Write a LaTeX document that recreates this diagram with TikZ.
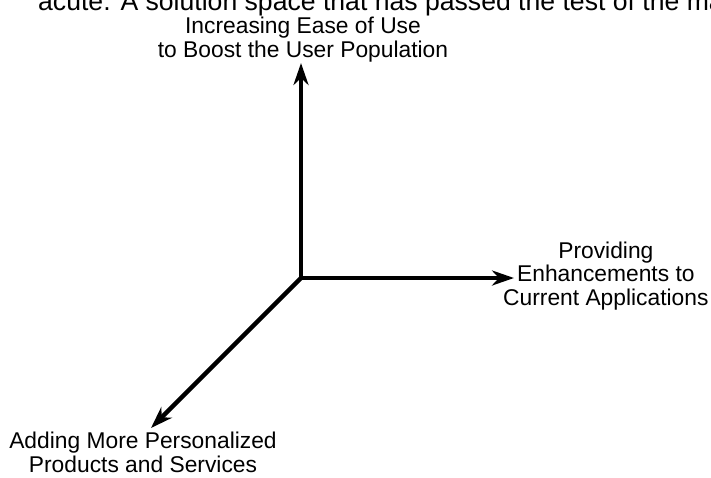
\documentclass[tikz,border=0pt]{standalone}
\usepackage{fontspec}
\setmainfont{Liberation Sans}
\usetikzlibrary{
	arrows.meta,
	positioning
}
\tikzset{
	>={Stealth[length=22pt, width=15pt, inset=7pt]},
	axisline/.style={->, line width=4.5pt},
	axislabel/.style={align=center, inner sep=0pt, font=\fontsize{22.8}{23.5}\selectfont},
	pagetext/.style={anchor=base west, inner sep=0pt, font=\fontsize{26.6}{30}\selectfont}
}

\begin{document}
\begin{tikzpicture}[x=1pt, y=-1pt]
	\useasboundingbox (0,0) rectangle (711,477);
	\clip (0,0) rectangle (711,477);

	\node[pagetext] (pageline) at (38,10) {acute. A solution space that has passed the test of the market};

	\coordinate (origin) at (301,278);
	\coordinate (usetip) at (301,63);
	\coordinate (enhancetip) at (514,278);
	\coordinate (personaltip) at (151,428);

	\node[axislabel, above = 1pt of usetip, xshift=2pt] (easeofuse) {Increasing Ease of Use\\to Boost the User Population};
	\node[axislabel, right = -11pt of enhancetip, yshift=2pt] (enhancements) {Providing\\Enhancements to\\Current Applications};
	\node[axislabel, below = 4pt of personaltip, xshift=-8pt] (personalized) {Adding More Personalized\\Products and Services};

	\draw[axisline] (origin) -- (usetip);
	\draw[axisline] (origin) -- (enhancetip);
	\draw[axisline] (origin) -- (personaltip);
\end{tikzpicture}
\end{document}
